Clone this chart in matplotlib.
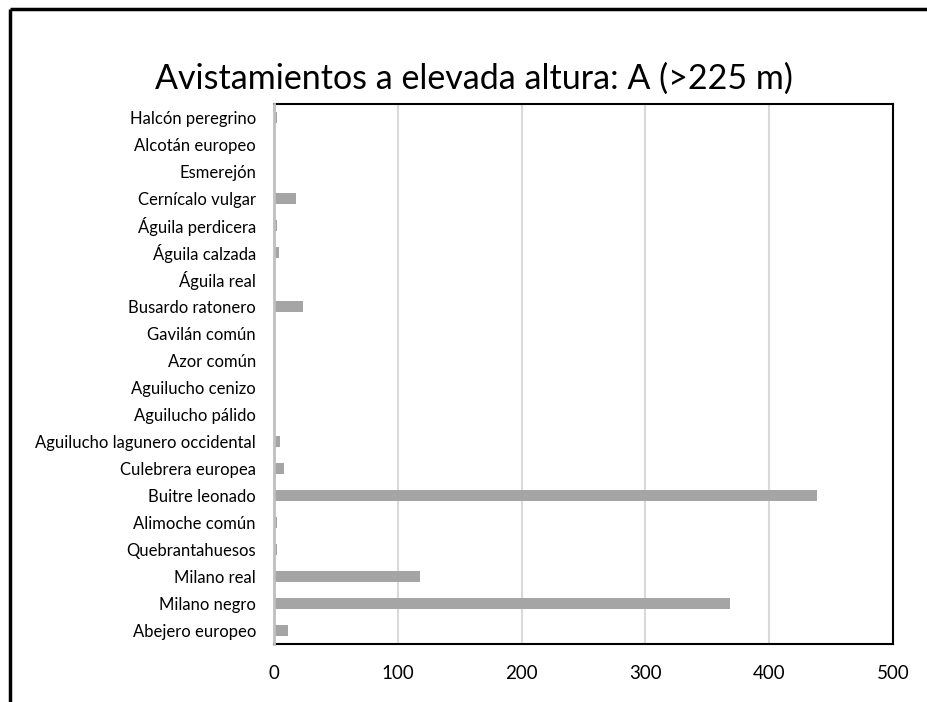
import matplotlib.pyplot as plt
from matplotlib.lines import Line2D
import numpy as np

plt.rcParams['font.family'] = ['Lato', 'DejaVu Sans']

# species, bottom to top
species = ['Abejero europeo', 'Milano negro', 'Milano real', 'Quebrantahuesos',
           'Alimoche común', 'Buitre leonado', 'Culebrera europea',
           'Aguilucho lagunero occidental', 'Aguilucho pálido', 'Aguilucho cenizo',
           'Azor común', 'Gavilán común', 'Busardo ratonero', 'Águila real',
           'Águila calzada', 'Águila perdicera', 'Cernícalo vulgar', 'Esmerejón',
           'Alcotán europeo', 'Halcón peregrino']
counts = [11, 368, 118, 2, 2.5, 439, 8, 5, 0, 0, 0, 0, 23, 1, 4, 2, 18, 0, 0, 2]
xticks = [0, 100, 200, 300, 400, 500]

fig = plt.figure(figsize=(9.28, 7.02), dpi=100)
fig.patch.set_edgecolor('none')
fig.patch.set_linewidth(0)
ax = fig.add_axes([0.2953, 0.0826, 0.6670, 0.7693])

y = np.arange(len(species))
ax.barh(y, counts, height=0.38, color='#a5a5a5', zorder=3)

ax.set_xlim(0, 500)
ax.set_ylim(-0.5, len(species) - 0.5)
ax.set_xticks(xticks)
ax.set_xticklabels([str(t) for t in xticks], fontsize=13.5)
ax.set_yticks(y)
ax.set_yticklabels(species, fontsize=12)
ax.tick_params(axis='both', length=0)
ax.tick_params(axis='x', pad=15)
ax.tick_params(axis='y', pad=13)
ax.grid(axis='x', color='#d9d9d9', linewidth=1.5, zorder=0)

for side in ['top', 'right', 'bottom']:
    ax.spines[side].set_color('black')
    ax.spines[side].set_linewidth(1.5)
ax.spines['left'].set_color('#bfbfbf')
ax.spines['left'].set_linewidth(2)
ax.spines['left'].set_zorder(4)

fig.text(0.511, 0.888, 'Avistamientos a elevada altura: A (>225 m)',
         ha='center', va='center', fontsize=24.5)

# outer frame: only left and top edges fall inside the image
fig.add_artist(Line2D([0.0113, 0.0113], [0, 0.9875], transform=fig.transFigure,
                      color='black', linewidth=2.5, solid_capstyle='butt'))
fig.add_artist(Line2D([0.0113, 0.999], [0.9875, 0.9875], transform=fig.transFigure,
                      color='black', linewidth=2.5, solid_capstyle='butt'))

fig.savefig('out.png', dpi=100)
